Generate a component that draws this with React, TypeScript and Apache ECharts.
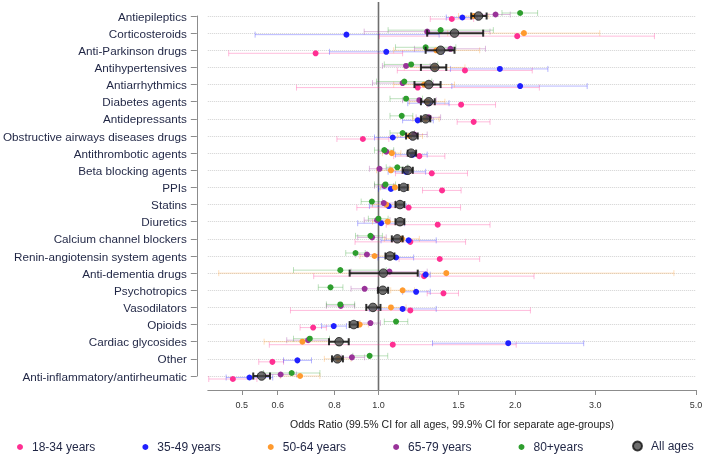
import React, { useEffect, useRef } from "react";
import * as echarts from "echarts";

const categories = [
  "Antiepileptics",
  "Corticosteroids",
  "Anti-Parkinson drugs",
  "Antihypertensives",
  "Antiarrhythmics",
  "Diabetes agents",
  "Antidepressants",
  "Obstructive airways diseases drugs",
  "Antithrombotic agents",
  "Beta blocking agents",
  "PPIs",
  "Statins",
  "Diuretics",
  "Calcium channel blockers",
  "Renin-angiotensin system agents",
  "Anti-dementia drugs",
  "Psychotropics",
  "Vasodilators",
  "Opioids",
  "Cardiac glycosides",
  "Other",
  "Anti-inflammatory/antirheumatic",
];

const xTicks = [0.5, 0.6, 0.8, 1.0, 1.5, 2.0, 3.0, 5.0];

// [odds ratio, CI low, CI high] per category (top to bottom)
const age1834: number[][] = [
  [1.45, 1.3, 1.62], [2.02, 1.005, 4.05], [0.727, 0.468, 1.13], [1.55, 1.1, 2.18],
  [1.22, 0.66, 2.26], [1.52, 1.28, 1.81], [1.62, 1.49, 1.76], [0.924, 0.81, 1.054],
  [1.23, 1.08, 1.4], [1.31, 1.09, 1.57], [1.38, 1.25, 1.52], [1.165, 0.896, 1.516],
  [1.35, 1.04, 1.76], [1.175, 0.888, 1.555], [1.364, 1.11, 1.67], [1.26, 0.72, 2.2],
  [1.39, 1.28, 1.5], [1.175, 0.64, 2.16], [0.718, 0.672, 0.768], [1.075, 0.575, 2.01],
  [0.584, 0.545, 0.618], [0.478, 0.423, 0.54],
];
const age3549: number[][] = [
  [1.53, 1.41, 1.65], [0.85, 0.535, 1.36], [1.04, 0.78, 1.39], [1.85, 1.44, 2.36],
  [2.05, 1.45, 2.88], [1.29, 1.16, 1.43], [1.22, 1.13, 1.32], [1.075, 0.98, 1.18],
  [1.19, 1.09, 1.28], [1.15, 1.05, 1.27], [1.065, 1.0, 1.14], [1.053, 0.955, 1.15],
  [1.013, 0.9, 1.14], [1.165, 1.013, 1.34], [1.093, 0.997, 1.195], [1.27, 1.23, 1.3],
  [1.21, 1.13, 1.3], [1.13, 0.955, 1.34], [0.797, 0.749, 0.85], [1.93, 1.315, 2.83],
  [0.663, 0.618, 0.712], [0.52, 0.462, 0.585],
];
const age5064: number[][] = [
  [1.62, 1.5, 1.75], [2.09, 1.42, 3.07], [1.34, 1.08, 1.67], [1.33, 1.14, 1.55],
  [1.26, 1.08, 1.47], [1.28, 1.17, 1.4], [1.27, 1.19, 1.36], [1.17, 1.1, 1.25],
  [1.07, 1.02, 1.12], [1.065, 0.99, 1.14], [1.087, 1.01, 1.17], [1.04, 0.97, 1.11],
  [1.048, 0.97, 1.13], [1.126, 1.03, 1.23], [0.98, 0.91, 1.05], [1.41, 0.445, 4.47],
  [1.13, 1.064, 1.2], [1.065, 0.99, 1.15], [0.909, 0.87, 0.95], [0.68, 0.56, 0.825],
  [0.815, 0.76, 0.87], [0.672, 0.608, 0.743],
];
const age6579: number[][] = [
  [1.81, 1.68, 1.95], [1.28, 0.93, 1.76], [1.44, 1.2, 1.72], [1.15, 1.02, 1.3],
  [1.13, 0.97, 1.32], [1.23, 1.13, 1.34], [1.29, 1.21, 1.37], [1.2, 1.12, 1.28],
  [1.04, 1.0, 1.08], [1.005, 0.955, 1.06], [1.03, 0.98, 1.08], [1.027, 0.97, 1.09],
  [0.993, 0.93, 1.06], [0.968, 0.9, 1.04], [0.943, 0.89, 1.0], [1.057, 0.87, 1.28],
  [0.932, 0.87, 0.997], [0.826, 0.768, 0.886], [0.96, 0.91, 1.01], [0.7, 0.628, 0.78],
  [0.874, 0.828, 0.932], [0.609, 0.56, 0.66],
];
const age80: number[][] = [
  [2.05, 1.87, 2.24], [1.37, 1.05, 1.79], [1.27, 1.09, 1.48], [1.18, 1.03, 1.35],
  [1.14, 0.99, 1.31], [1.15, 1.06, 1.25], [1.125, 1.06, 1.19], [1.13, 1.06, 1.2],
  [1.03, 0.98, 1.08], [1.1, 1.04, 1.16], [1.036, 0.98, 1.09], [0.967, 0.916, 1.02],
  [1.0, 0.95, 1.05], [0.96, 0.89, 1.02], [0.89, 0.847, 0.935], [0.824, 0.65, 1.04],
  [0.784, 0.737, 0.835], [0.824, 0.768, 0.886], [1.093, 1.03, 1.16], [0.706, 0.65, 0.78],
  [0.956, 0.878, 1.048], [0.644, 0.558, 0.743],
];
const allAges: number[][] = [
  [1.66, 1.6, 1.73], [1.47, 1.28, 1.7], [1.37, 1.27, 1.47], [1.33, 1.24, 1.41],
  [1.29, 1.2, 1.37], [1.29, 1.24, 1.33], [1.27, 1.24, 1.3], [1.19, 1.15, 1.22],
  [1.18, 1.16, 1.21], [1.16, 1.13, 1.19], [1.136, 1.11, 1.16], [1.115, 1.09, 1.14],
  [1.115, 1.09, 1.14], [1.1, 1.07, 1.13], [1.06, 1.036, 1.084], [1.025, 0.864, 1.22],
  [1.022, 0.997, 1.05], [0.972, 0.94, 1.01], [0.882, 0.864, 0.9], [0.819, 0.778, 0.86],
  [0.812, 0.79, 0.835], [0.553, 0.53, 0.577],
];

const groupNames = ["18-34 years", "35-49 years", "50-64 years", "65-79 years", "80+years"];
const groupData = [age1834, age3549, age5064, age6579, age80];
const groupColors = ["#ff2f92", "#2020ff", "#ff9a2e", "#993399", "#2e9e2e"];
const groupOffsets = [3, 1.5, 0, -1.5, -3];

const FONT = "'Liberation Sans', Arial, sans-serif";

function ciSeries(name: string, data: number[][], color: string, off: number, width: number, cap: number, opacity: number, z: number) {
  return {
    type: "custom",
    name,
    z,
    silent: true,
    data: data.map((d, i) => [d[1], d[2], i]),
    encode: { x: [0, 1], y: 2 },
    renderItem: (params: any, api: any) => {
      const a = api.coord([api.value(0), api.value(2)]);
      const b = api.coord([api.value(1), api.value(2)]);
      const y = a[1] + off;
      const style = { stroke: color, lineWidth: width, opacity };
      return {
        type: "group",
        children: [
          { type: "line", shape: { x1: a[0], y1: y, x2: b[0], y2: y }, style },
          { type: "line", shape: { x1: a[0], y1: y - cap, x2: a[0], y2: y + cap }, style },
          { type: "line", shape: { x1: b[0], y1: y - cap, x2: b[0], y2: y + cap }, style },
        ],
      };
    },
  };
}

export default function App() {
  const ref = useRef<HTMLDivElement>(null);
  useEffect(() => {
    if (!ref.current) return;
    const chart = echarts.init(ref.current, undefined, { renderer: "svg" });
    const series: any[] = [];
    // reference line at OR = 1
    series.push({
      type: "custom",
      name: "ref",
      z: 1,
      silent: true,
      data: [[1, 0]],
      encode: { x: 0, y: 1 },
      renderItem: (params: any, api: any) => {
        const x = api.coord([1, 0])[0];
        return { type: "line", shape: { x1: x, y1: 2, x2: x, y2: 390 }, style: { stroke: "#6e6e6e", lineWidth: 1.6 } };
      },
    });
    groupData.forEach((d, gi) => {
      series.push(ciSeries(groupNames[gi] + " CI", d, groupColors[gi], groupOffsets[gi], 1, 3, 0.32, 2));
    });
    groupData.forEach((d, gi) => {
      series.push({
        type: "scatter",
        name: groupNames[gi],
        z: 3,
        symbol: "circle",
        symbolSize: 6,
        symbolOffset: [0, groupOffsets[gi]],
        itemStyle: { color: groupColors[gi], opacity: 1 },
        data: d.map((v, i) => [v[0], i]),
      });
    });
    series.push(ciSeries("All ages CI", allAges, "#1a1a1a", 0, 2, 3.5, 0.9, 4));
    series.push({
      type: "scatter",
      name: "All ages",
      z: 5,
      symbol: "circle",
      symbolSize: 8.5,
      itemStyle: { color: "#4a4a4a", borderColor: "#111", borderWidth: 1 },
      data: allAges.map((v, i) => [v[0], i]),
    });

    chart.setOption({
      animation: false,
      textStyle: { fontFamily: FONT },
      grid: { left: 204, right: 12, top: 16, bottom: 88, containLabel: false },
      xAxis: {
        type: "log",
        logBase: 10,
        min: 0.421,
        max: 5,
        offset: 14,
        axisLine: { show: true, lineStyle: { color: "#8c8c8c", width: 1 } },
        axisTick: { show: true, customValues: xTicks, length: 5, lineStyle: { color: "#8c8c8c" } },
        axisLabel: {
          customValues: xTicks,
          formatter: (v: number) => Number(v).toFixed(1),
          fontSize: 9,
          color: "#333",
          margin: 10,
          fontFamily: FONT,
        },
        splitLine: { show: false },
        minorTick: { show: false },
        minorSplitLine: { show: false },
        name: "Odds Ratio (99.5% CI for all ages, 99.9% CI for separate age-groups)",
        nameLocation: "middle",
        nameGap: 28,
        nameTextStyle: { fontSize: 10.5, color: "#222", fontFamily: FONT },
      },
      yAxis: {
        type: "category",
        data: categories,
        inverse: true,
        boundaryGap: false,
        offset: 11,
        axisLine: { show: true, lineStyle: { color: "#8c8c8c" } },
        axisTick: { show: true, length: 6, interval: 0, lineStyle: { color: "#8c8c8c" } },
        axisLabel: { interval: 0, fontSize: 11.7, color: "#1f2544", margin: 10, fontFamily: FONT },
        splitLine: { show: true, interval: 0, lineStyle: { type: "dotted", color: "#d2d2d2", width: 1 } },
      },
      legend: [
        {
          data: groupNames.map((n, i) => ({ name: n, itemStyle: { color: groupColors[i] } })),
          left: 12,
          top: 436,
          icon: "circle",
          itemWidth: 6,
          itemHeight: 6,
          itemGap: 47,
          selectedMode: false,
          textStyle: { fontSize: 12, color: "#1f2544", fontFamily: FONT, padding: [0, 0, 0, 4] },
        },
        {
          data: [{ name: "All ages" }],
          left: 627,
          top: 435,
          icon: "circle",
          itemWidth: 9,
          itemHeight: 9,
          selectedMode: false,
          textStyle: { fontSize: 12, color: "#1f2544", fontFamily: FONT, padding: [0, 0, 0, 4] },
        },
      ],
      series,
    });
    return () => chart.dispose();
  }, []);
  return <div ref={ref} style={{ position: "fixed", left: 0, top: 0, width: 708, height: 464 }} />;
}
